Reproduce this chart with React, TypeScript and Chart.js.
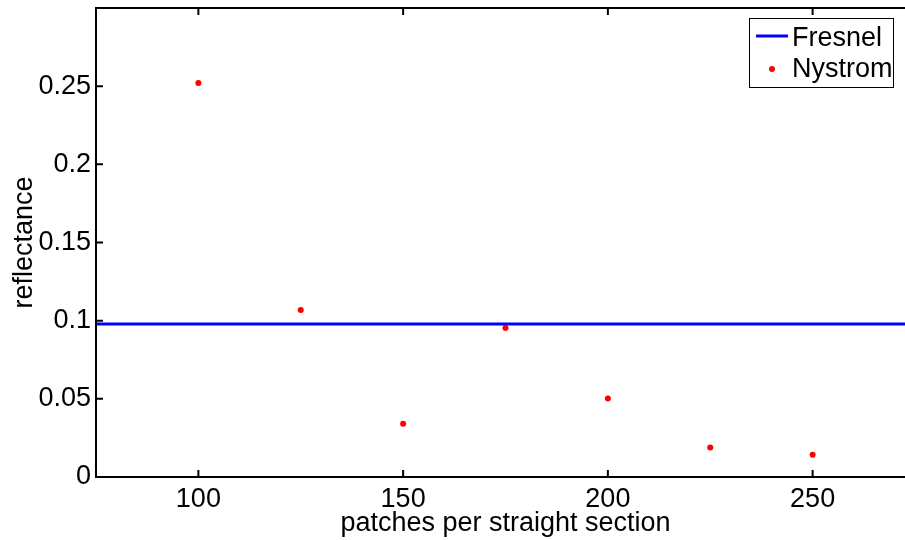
import { useEffect, useRef } from "react";
import { Chart, registerables } from "chart.js";
Chart.register(...registerables);

const xTicks = [100, 150, 200, 250];
const yTicks = [0, 0.05, 0.1, 0.15, 0.2, 0.25];
const patches = [100, 125, 150, 175, 200, 225, 250];
const nystrom = [0.252, 0.1068, 0.034, 0.0953, 0.0502, 0.0189, 0.0142];
const fresnelX = [75, 275];
const fresnelValue = 0.0979;
const xTitle = "patches per straight section";
const yTitle = "reflectance";

const FONT = "'Liberation Sans', Arial, sans-serif";
const FS = 27;

const framePlugin = {
  id: "frame",
  afterDatasetsDraw(chart: any) {
    const { ctx, chartArea } = chart;
    const { left, right, top, bottom } = chartArea;
    const xs = chart.scales.x;
    const ys = chart.scales.y;
    const tl = 7;
    ctx.save();
    ctx.strokeStyle = "#000";
    ctx.lineWidth = 2;
    ctx.beginPath();
    ctx.rect(left, top, right - left, bottom - top);
    ctx.stroke();
    ctx.beginPath();
    xTicks.forEach((v) => {
      const px = xs.getPixelForValue(v);
      ctx.moveTo(px, bottom);
      ctx.lineTo(px, bottom - tl);
      ctx.moveTo(px, top);
      ctx.lineTo(px, top + tl);
    });
    yTicks.forEach((v) => {
      const py = ys.getPixelForValue(v);
      ctx.moveTo(left, py);
      ctx.lineTo(left + tl, py);
      ctx.moveTo(right, py);
      ctx.lineTo(right - tl, py);
    });
    ctx.stroke();

    // legend
    const bw = 144;
    const bh = 69;
    const bx = right - 22 - bw;
    const by = top + 10;
    ctx.fillStyle = "#fff";
    ctx.fillRect(bx, by, bw, bh);
    ctx.lineWidth = 1;
    ctx.strokeStyle = "#000";
    ctx.strokeRect(bx + 0.5, by + 0.5, bw, bh);
    const ds = chart.data.datasets;
    ctx.font = `${FS}px ${FONT}`;
    ctx.textBaseline = "alphabetic";
    ctx.textAlign = "left";
    // Fresnel entry
    ctx.strokeStyle = ds[0].borderColor;
    ctx.lineWidth = 3;
    ctx.beginPath();
    ctx.moveTo(bx + 7, by + 18);
    ctx.lineTo(bx + 39, by + 18);
    ctx.stroke();
    ctx.fillStyle = "#000";
    ctx.fillText(ds[0].label, bx + 43, by + 27.5);
    // Nystrom entry
    ctx.fillStyle = ds[1].backgroundColor;
    ctx.beginPath();
    ctx.arc(bx + 23, by + 51, 3, 0, Math.PI * 2);
    ctx.fill();
    ctx.fillStyle = "#000";
    ctx.fillText(ds[1].label, bx + 43, by + 59);
    ctx.restore();
  },
};

export default function App() {
  const ref = useRef<HTMLCanvasElement>(null);
  useEffect(() => {
    document.body.style.margin = "0";
    document.documentElement.style.overflow = "hidden";
    const chart = new Chart(ref.current!, {
      type: "scatter",
      data: {
        datasets: [
          {
            label: "Fresnel",
            type: "line",
            data: fresnelX.map((x) => ({ x, y: fresnelValue })),
            borderColor: "#0000ff",
            backgroundColor: "#0000ff",
            borderWidth: 3,
            pointRadius: 0,
            showLine: true,
          },
          {
            label: "Nystrom",
            data: patches.map((x, i) => ({ x, y: nystrom[i] })),
            backgroundColor: "#ff0000",
            borderColor: "#ff0000",
            borderWidth: 0,
            pointRadius: 3,
          },
        ],
      },
      options: {
        animation: false,
        responsive: true,
        maintainAspectRatio: false,
        layout: { padding: { top: 8, right: 5, left: 0, bottom: 0 } },
        plugins: { legend: { display: false }, tooltip: { enabled: false } },
        scales: {
          x: {
            type: "linear",
            min: 75,
            max: 275,
            grid: { display: false, drawTicks: false },
            border: { display: false },
            afterFit: (s: any) => {
              s.height = 63;
              s.paddingLeft = 0;
              s.paddingRight = 0;
            },
            afterBuildTicks: (s: any) => {
              s.ticks = xTicks.map((v) => ({ value: v }));
            },
            ticks: {
              color: "#000",
              padding: 6,
              maxRotation: 0,
              autoSkip: false,
              font: { family: FONT, size: FS },
              callback: (v: any) => String(v),
            },
            title: {
              display: true,
              text: xTitle,
              color: "#000",
              padding: { top: 0, bottom: 0 },
              font: { family: FONT, size: FS },
            },
          },
          y: {
            type: "linear",
            min: 0,
            max: 0.3,
            grid: { display: false, drawTicks: false },
            border: { display: false },
            afterFit: (s: any) => {
              s.width = 96;
              s.paddingTop = 0;
              s.paddingBottom = 0;
            },
            afterBuildTicks: (s: any) => {
              s.ticks = yTicks.map((v) => ({ value: v }));
            },
            ticks: {
              color: "#000",
              padding: 5,
              autoSkip: false,
              font: { family: FONT, size: FS },
              callback: (v: any) => String(v),
            },
            title: {
              display: true,
              text: yTitle,
              color: "#000",
              padding: { top: 8, bottom: 0 },
              font: { family: FONT, size: FS },
            },
          },
        },
      },
      plugins: [framePlugin],
    });
    return () => chart.destroy();
  }, []);
  return (
    <div style={{ position: "fixed", left: 0, top: 0, width: 920, height: 540 }}>
      <canvas ref={ref} />
    </div>
  );
}
